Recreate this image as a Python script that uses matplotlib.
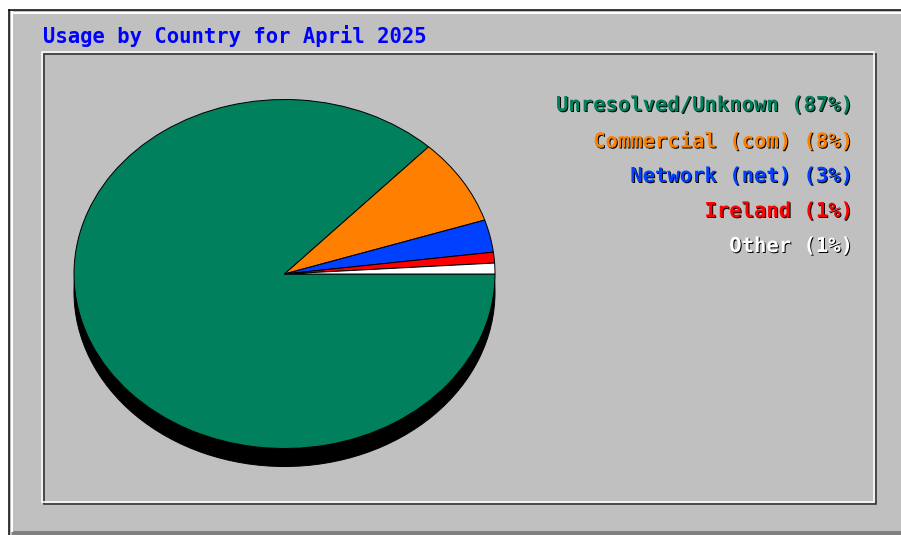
import matplotlib
matplotlib.use("Agg")
import matplotlib.pyplot as plt
from matplotlib.patches import Rectangle
from matplotlib.lines import Line2D
import matplotlib.patheffects as pe

# ---- data ----
title = "Usage by Country for April 2025"
labels = ["Unresolved/Unknown", "Commercial (com)", "Network (net)", "Ireland", "Other"]
percents = [87, 8, 3, 1, 1]
colors = ["#00805C", "#FF8000", "#0040FF", "#FF0000", "#FFFFFF"]

W, H = 901, 535
fig = plt.figure(figsize=(W / 100, H / 100), dpi=100, facecolor="white")

# background axes in pixel coordinates
bg = fig.add_axes([0, 0, 1, 1])
bg.set_xlim(0, W)
bg.set_ylim(H, 0)
bg.axis("off")

px = 0.72  # one pixel in points
bg.add_patch(Rectangle((9, 10), W, 530, facecolor="#C0C0C0", edgecolor="none"))
bg.add_patch(Rectangle((12, 531), W, 10, facecolor="#808080", edgecolor="none"))
bg.add_line(Line2D([9, 9], [10, H], color="black", lw=1.5 * px))
bg.add_line(Line2D([9, W], [10, 10], color="black", lw=1.5 * px))
bg.add_line(Line2D([11.5, 11.5], [12, 531], color="white", lw=2 * px))
bg.add_line(Line2D([11.5, W], [12.5, 12.5], color="white", lw=2 * px))

# inner sunken box
x0, y0, x1, y1 = 41.5, 51.5, 873.5, 501.5
bg.add_patch(Rectangle((x0 + 2, y0 + 2), x1 - x0, y1 - y0, fill=False,
                       edgecolor="#303030", lw=1.6 * px))
bg.add_patch(Rectangle((x0, y0), x1 - x0, y1 - y0, fill=False,
                       edgecolor="white", lw=1.6 * px))

font = dict(family="DejaVu Sans Mono", weight="bold")
bg.text(43, 36, title, color="#0000FF", fontsize=14.8, ha="left", va="center", **font)

# legend with shadow
leg_y = [105, 141, 176, 211, 246]
for lab, p, c, y in zip(labels, percents, colors, leg_y):
    bg.text(853, y, f"{lab} ({p}%)", color=c, fontsize=14.8, ha="right", va="center",
            path_effects=[pe.withSimplePatchShadow(offset=(1 * px, -1 * px),
                                                   shadow_rgbFace="black", alpha=1.0)],
            **font)

# pie (elliptical) axes
cx, cy, rx, ry, d = 284.5, 274.0, 210.5, 174.5, 18.0
s = d / ry
ax_h = 2 * ry + d
ax = fig.add_axes([(cx - rx) / W, 1 - (cy - ry + ax_h) / H, 2 * rx / W, ax_h / H])

ax.pie([1], colors=["black"], radius=1, center=(0, -s), frame=True,
       wedgeprops=dict(edgecolor="black", linewidth=px))
ax.pie(percents, colors=colors, radius=1, center=(0, 0), startangle=0,
       counterclock=False, frame=True,
       wedgeprops=dict(edgecolor="black", linewidth=px))
ax.set_xlim(-1, 1)
ax.set_ylim(-1 - s, 1)
ax.set_aspect("auto")
ax.axis("off")
ax.patch.set_alpha(0)

fig.savefig("out.png", dpi=100, facecolor="white")
